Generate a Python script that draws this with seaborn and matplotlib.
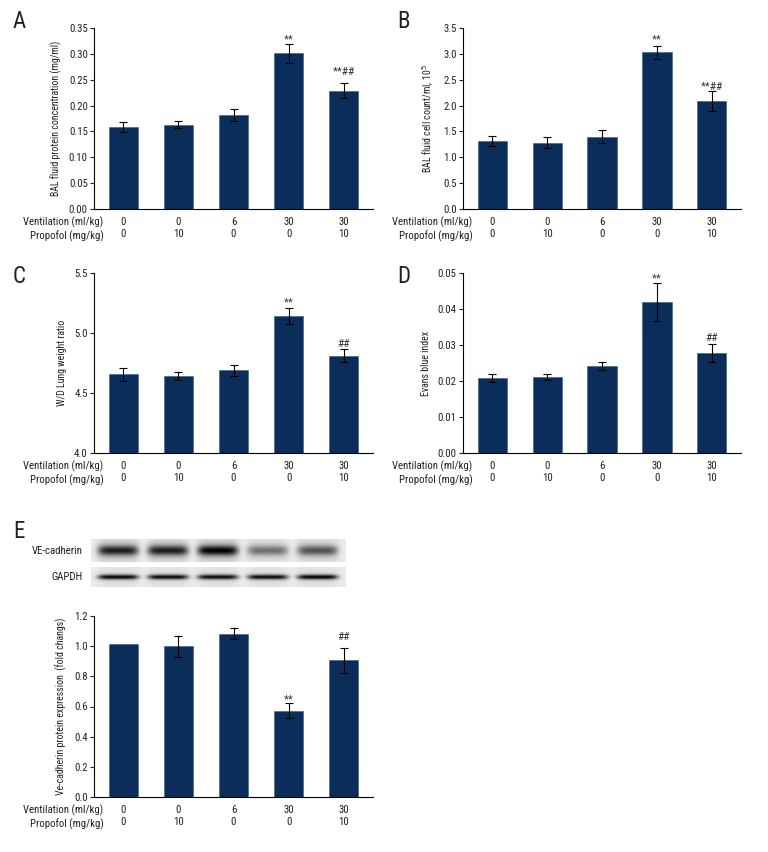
import numpy as np
import pandas as pd
import matplotlib
matplotlib.use("Agg")
import matplotlib.pyplot as plt
from matplotlib import font_manager
import seaborn as sns

# groups: ventilation (ml/kg) / propofol (mg/kg)
groups = ["G1", "G2", "G3", "G4", "G5"]
ventilation = ["0", "0", "6", "30", "30"]
propofol = ["0", "10", "0", "0", "10"]

# A - BAL fluid protein
bal_protein = [0.158, 0.163, 0.182, 0.301, 0.229]
bal_protein_err = [0.010, 0.007, 0.011, 0.018, 0.014]
bal_protein_marks = ["", "", "", "**", "**##"]
bal_protein_mark_y = [0, 0, 0, 0.323, 0.259]

# B - BAL fluid cell count
bal_cells = [1.31, 1.285, 1.40, 3.03, 2.09]
bal_cells_err = [0.10, 0.10, 0.12, 0.12, 0.19]
bal_cells_marks = ["", "", "", "**", "**##"]
bal_cells_mark_y = [0, 0, 0, 3.22, 2.30]

# C - W/D ratio
wd_ratio = [4.655, 4.638, 4.69, 5.141, 4.81]
wd_ratio_err = [0.055, 0.033, 0.047, 0.07, 0.055]
wd_ratio_marks = ["", "", "", "**", "##"]
wd_ratio_mark_y = [0, 0, 0, 5.233, 4.883]

# D - Evans blue
evans = [0.0209, 0.0211, 0.0241, 0.0420, 0.0279]
evans_err = [0.0011, 0.0009, 0.0011, 0.0053, 0.0025]
evans_marks = ["", "", "", "**", "##"]
evans_mark_y = [0, 0, 0, 0.0478, 0.0311]

# E - VE-cadherin expression
vecad = [1.016, 0.998, 1.083, 0.573, 0.905]
vecad_err = [0.0, 0.07, 0.035, 0.047, 0.08]
vecad_marks = ["", "", "", "**", "##"]
vecad_mark_y = [0, 0, 0, 0.630, 1.041]

# western blot band strengths (0..1)
blot_vecad = [0.70, 0.70, 0.80, 0.42, 0.52]
blot_gapdh = [0.95, 0.93, 0.93, 0.93, 0.97]

BAR = "#0b2d5a"
INK = "#231f20"
W, H = 768, 852

sns.set_theme(style="ticks")


# look for a narrow sans (the original uses a condensed face)
def pick_font():
    tries = [("Liberation Sans Narrow", "normal"), ("Roboto Condensed", "normal"),
             ("Open Sans Condensed", "normal"), ("Roboto", "condensed"),
             ("Noto Sans", "condensed"), ("Open Sans", "condensed"),
             ("DejaVu Sans", "condensed")]
    for fam, st in tries:
        try:
            path = font_manager.findfont(font_manager.FontProperties(family=fam, stretch=st),
                                         fallback_to_default=False)
        except Exception:
            continue
        low = path.lower()
        if "narrow" in low or "condensed" in low or "cond" in low:
            return fam, st
    return "Liberation Sans", "normal"


FAM, STRETCH = pick_font()
plt.rcParams["font.family"] = [FAM, "DejaVu Sans"]
plt.rcParams["font.stretch"] = STRETCH
plt.rcParams["axes.linewidth"] = 0.8
plt.rcParams["text.color"] = INK
plt.rcParams["axes.labelcolor"] = INK
plt.rcParams["xtick.color"] = INK
plt.rcParams["ytick.color"] = INK
plt.rcParams["axes.edgecolor"] = "black"

fig = plt.figure(figsize=(W / 100, H / 100), dpi=100)

# scale text so the row header has about the width seen in the original
_probe = fig.text(0, 0, "Ventilation (ml/kg)", fontsize=8.5)
_w = _probe.get_window_extent(renderer=fig.canvas.get_renderer()).width
_probe.remove()
S = min(1.15, 80.0 / _w)
FS = 8.5 * S
FS_LAB = 7.8 * S


def px_axes(left, top, right, bottom):
    return fig.add_axes([left / W, 1 - bottom / H, (right - left) / W, (bottom - top) / H])


def px_text(x, y, s, **kw):
    fig.text(x / W, 1 - y / H, s, **kw)


def bar_panel(box, vals, errs, marks, mark_y, ylim, yticks, fmt, ylabel, letter, letter_xy):
    left, top, right, bottom = box
    ax = px_axes(left, top, right, bottom)
    df = pd.DataFrame({"group": groups, "value": vals})
    sns.barplot(data=df, x="group", y="value", order=groups, color=BAR,
                saturation=1, width=0.53, errorbar=None, ax=ax,
                edgecolor="#3a5878", linewidth=0.4)
    e = np.array(errs)
    idx = np.where(e > 0)[0]
    ax.errorbar(idx, np.array(vals)[idx], yerr=e[idx], fmt="none",
                ecolor="black", elinewidth=0.8, capsize=3, capthick=0.8)
    for i, (m, y) in enumerate(zip(marks, mark_y)):
        if m:
            ax.text(i, y, m, ha="center", va="baseline", fontsize=FS * 1.05, color="#333333")
    ax.set_xlim(-0.53, 4.53)
    ax.set_ylim(*ylim)
    ax.set_yticks(yticks)
    ax.set_yticklabels([fmt.format(t) for t in yticks])
    ax.set_xticks(range(5))
    ax.set_xticklabels([f"{v}\n{p}" for v, p in zip(ventilation, propofol)],
                       linespacing=1.25)
    ax.tick_params(axis="x", length=0, pad=6, labelsize=FS)
    ax.tick_params(axis="y", length=3, width=0.8, pad=1.5, labelsize=FS, direction="out")
    ax.set_xlabel("")
    ax.set_ylabel(ylabel, fontsize=FS_LAB, labelpad=5)
    sns.despine(ax=ax)
    px_text(left + 9.5, bottom + 7.5, "Ventilation (ml/kg)\nPropofol (mg/kg)",
            ha="right", va="top", fontsize=FS, linespacing=1.25)
    px_text(letter_xy[0], letter_xy[1], letter, fontsize=16.5, va="baseline")
    return ax


bar_panel((94, 28, 373, 209), bal_protein, bal_protein_err, bal_protein_marks, bal_protein_mark_y,
          (0, 0.35), np.arange(0, 0.351, 0.05), "{:.2f}",
          "BAL fluid protein concentration (mg/ml)", "A", (13, 28))
bar_panel((463, 28, 741, 209), bal_cells, bal_cells_err, bal_cells_marks, bal_cells_mark_y,
          (0, 3.5), np.arange(0, 3.51, 0.5), "{:.1f}",
          "BAL fluid cell count/ml, 10$^5$", "B", (397, 28))
bar_panel((94, 273, 373, 453), wd_ratio, wd_ratio_err, wd_ratio_marks, wd_ratio_mark_y,
          (4.0, 5.5), np.arange(4.0, 5.51, 0.5), "{:.1f}",
          "W/D Lung weight ratio", "C", (13, 283))
bar_panel((463, 273, 741, 453), evans, evans_err, evans_marks, evans_mark_y,
          (0, 0.05), np.arange(0, 0.0501, 0.01), "{:.2f}",
          "Evans blue index", "D", (397, 283))
bar_panel((94, 616, 373, 797), vecad, vecad_err, vecad_marks, vecad_mark_y,
          (0, 1.2), np.arange(0, 1.21, 0.2), "{:.1f}",
          "Ve-cadherin protein expression  (fold changs)", "E", (13, 538))


# western blot strips
def blot(box, strengths, sigma, broad, label):
    left, top, right, bottom = box
    ax = px_axes(left, top, right, bottom)
    nx, ny = right - left, bottom - top
    xs = np.linspace(0, 1, nx)[None, :]
    ys = np.linspace(0, 1, ny)[:, None]
    centers = np.linspace(0.105, 0.89, 5)
    dark = np.full((ny, nx), 0.08)
    for c, s in zip(centers, strengths):
        lane = np.exp(-((xs - c) / 0.08) ** 6)
        band = np.exp(-((ys - 0.5) / sigma) ** 2)
        glow = np.exp(-((ys - 0.5) / 0.5) ** 2)
        dark += s * lane * (0.85 * band + broad * glow)
    dark = np.clip(dark, 0, 1)
    ax.imshow(1 - dark, cmap="gray", vmin=0, vmax=1, aspect="auto",
              interpolation="bilinear")
    ax.set_axis_off()
    px_text(83, (top + bottom) / 2, label, ha="right", va="center", fontsize=FS)


blot((91, 539, 346, 562), blot_vecad, 0.22, 0.30, "VE-cadherin")
blot((91, 567, 346, 587), blot_gapdh, 0.13, 0.08, "GAPDH")

fig.savefig("out.png", dpi=100, facecolor="white")
